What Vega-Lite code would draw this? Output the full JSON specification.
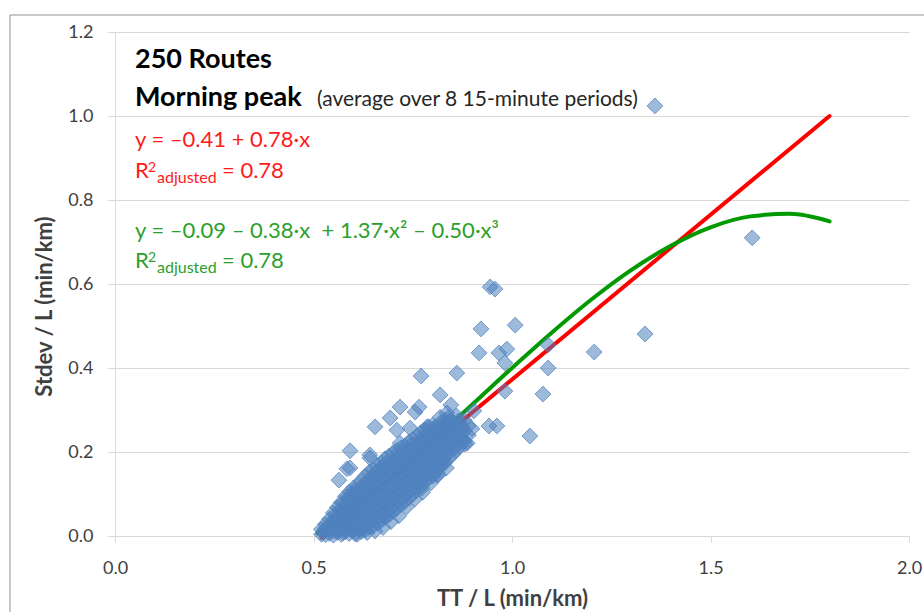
{
  "$schema": "https://vega.github.io/schema/vega-lite/v6.json",
  "width": 794,
  "height": 504,
  "autosize": "none",
  "padding": {"left": 115, "top": 32, "right": 15, "bottom": 76},
  "background": "white",
  "config": {
    "font": "Lato",
    "view": {"stroke": null},
    "axis": {"labelFont": "Lato", "titleFont": "Lato"}
  },
  "datasets": {
    "points": [
      {"tt":0.52,"sd":0.004},{"tt":0.52,"sd":0.016},{"tt":0.525,"sd":0.01},
      {"tt":0.53,"sd":0.003},{"tt":0.53,"sd":0.018},{"tt":0.53,"sd":0.028},
      {"tt":0.54,"sd":0.006},{"tt":0.54,"sd":0.022},{"tt":0.54,"sd":0.04},
      {"tt":0.545,"sd":0.012},{"tt":0.545,"sd":0.03},
      {"tt":0.55,"sd":0.002},{"tt":0.55,"sd":0.02},{"tt":0.55,"sd":0.038},{"tt":0.55,"sd":0.055},
      {"tt":0.56,"sd":0.008},{"tt":0.56,"sd":0.026},{"tt":0.56,"sd":0.046},{"tt":0.56,"sd":0.068},
      {"tt":0.57,"sd":0.004},{"tt":0.57,"sd":0.018},{"tt":0.57,"sd":0.036},{"tt":0.57,"sd":0.058},{"tt":0.57,"sd":0.08},
      {"tt":0.58,"sd":0.01},{"tt":0.58,"sd":0.03},{"tt":0.58,"sd":0.05},{"tt":0.58,"sd":0.072},{"tt":0.58,"sd":0.094},
      {"tt":0.59,"sd":0.006},{"tt":0.59,"sd":0.022},{"tt":0.59,"sd":0.044},{"tt":0.59,"sd":0.064},{"tt":0.59,"sd":0.086},{"tt":0.59,"sd":0.104},
      {"tt":0.6,"sd":0.012},{"tt":0.6,"sd":0.034},{"tt":0.6,"sd":0.056},{"tt":0.6,"sd":0.078},{"tt":0.6,"sd":0.098},{"tt":0.6,"sd":0.114},
      {"tt":0.61,"sd":0.004},{"tt":0.61,"sd":0.026},{"tt":0.61,"sd":0.048},{"tt":0.61,"sd":0.07},{"tt":0.61,"sd":0.092},{"tt":0.61,"sd":0.12},
      {"tt":0.62,"sd":0.01},{"tt":0.62,"sd":0.036},{"tt":0.62,"sd":0.058},{"tt":0.62,"sd":0.082},{"tt":0.62,"sd":0.106},{"tt":0.62,"sd":0.132},
      {"tt":0.63,"sd":0.014},{"tt":0.63,"sd":0.04},{"tt":0.63,"sd":0.066},{"tt":0.63,"sd":0.09},{"tt":0.63,"sd":0.114},{"tt":0.63,"sd":0.142},
      {"tt":0.64,"sd":0.02},{"tt":0.64,"sd":0.046},{"tt":0.64,"sd":0.072},{"tt":0.64,"sd":0.1},{"tt":0.64,"sd":0.126},{"tt":0.64,"sd":0.152},
      {"tt":0.65,"sd":0.024},{"tt":0.65,"sd":0.052},{"tt":0.65,"sd":0.08},{"tt":0.65,"sd":0.108},{"tt":0.65,"sd":0.134},{"tt":0.65,"sd":0.158},
      {"tt":0.66,"sd":0.03},{"tt":0.66,"sd":0.06},{"tt":0.66,"sd":0.088},{"tt":0.66,"sd":0.116},{"tt":0.66,"sd":0.144},{"tt":0.66,"sd":0.168},
      {"tt":0.67,"sd":0.036},{"tt":0.67,"sd":0.066},{"tt":0.67,"sd":0.096},{"tt":0.67,"sd":0.124},{"tt":0.67,"sd":0.152},{"tt":0.67,"sd":0.174},
      {"tt":0.68,"sd":0.044},{"tt":0.68,"sd":0.074},{"tt":0.68,"sd":0.104},{"tt":0.68,"sd":0.132},{"tt":0.68,"sd":0.16},{"tt":0.68,"sd":0.184},
      {"tt":0.69,"sd":0.05},{"tt":0.69,"sd":0.082},{"tt":0.69,"sd":0.11},{"tt":0.69,"sd":0.14},{"tt":0.69,"sd":0.168},{"tt":0.69,"sd":0.19},
      {"tt":0.7,"sd":0.058},{"tt":0.7,"sd":0.088},{"tt":0.7,"sd":0.118},{"tt":0.7,"sd":0.148},{"tt":0.7,"sd":0.176},{"tt":0.7,"sd":0.198},
      {"tt":0.71,"sd":0.066},{"tt":0.71,"sd":0.096},{"tt":0.71,"sd":0.126},{"tt":0.71,"sd":0.156},{"tt":0.71,"sd":0.184},{"tt":0.71,"sd":0.204},
      {"tt":0.72,"sd":0.074},{"tt":0.72,"sd":0.104},{"tt":0.72,"sd":0.134},{"tt":0.72,"sd":0.164},{"tt":0.72,"sd":0.19},{"tt":0.72,"sd":0.21},
      {"tt":0.73,"sd":0.082},{"tt":0.73,"sd":0.112},{"tt":0.73,"sd":0.142},{"tt":0.73,"sd":0.17},{"tt":0.73,"sd":0.196},{"tt":0.73,"sd":0.214},
      {"tt":0.74,"sd":0.09},{"tt":0.74,"sd":0.12},{"tt":0.74,"sd":0.15},{"tt":0.74,"sd":0.178},{"tt":0.74,"sd":0.204},{"tt":0.74,"sd":0.224},
      {"tt":0.75,"sd":0.1},{"tt":0.75,"sd":0.13},{"tt":0.75,"sd":0.158},{"tt":0.75,"sd":0.186},{"tt":0.75,"sd":0.21},{"tt":0.75,"sd":0.23},
      {"tt":0.76,"sd":0.108},{"tt":0.76,"sd":0.138},{"tt":0.76,"sd":0.166},{"tt":0.76,"sd":0.194},{"tt":0.76,"sd":0.218},{"tt":0.76,"sd":0.238},
      {"tt":0.77,"sd":0.118},{"tt":0.77,"sd":0.148},{"tt":0.77,"sd":0.176},{"tt":0.77,"sd":0.202},{"tt":0.77,"sd":0.226},{"tt":0.77,"sd":0.246},
      {"tt":0.78,"sd":0.128},{"tt":0.78,"sd":0.158},{"tt":0.78,"sd":0.186},{"tt":0.78,"sd":0.21},{"tt":0.78,"sd":0.234},{"tt":0.78,"sd":0.252},
      {"tt":0.79,"sd":0.138},{"tt":0.79,"sd":0.168},{"tt":0.79,"sd":0.194},{"tt":0.79,"sd":0.218},{"tt":0.79,"sd":0.24},{"tt":0.79,"sd":0.26},
      {"tt":0.8,"sd":0.148},{"tt":0.8,"sd":0.176},{"tt":0.8,"sd":0.202},{"tt":0.8,"sd":0.226},{"tt":0.8,"sd":0.248},{"tt":0.8,"sd":0.264},
      {"tt":0.81,"sd":0.156},{"tt":0.81,"sd":0.184},{"tt":0.81,"sd":0.21},{"tt":0.81,"sd":0.234},{"tt":0.81,"sd":0.256},
      {"tt":0.82,"sd":0.164},{"tt":0.82,"sd":0.192},{"tt":0.82,"sd":0.218},{"tt":0.82,"sd":0.242},{"tt":0.82,"sd":0.27},
      {"tt":0.83,"sd":0.174},{"tt":0.83,"sd":0.2},{"tt":0.83,"sd":0.226},{"tt":0.83,"sd":0.25},{"tt":0.83,"sd":0.276},
      {"tt":0.84,"sd":0.184},{"tt":0.84,"sd":0.21},{"tt":0.84,"sd":0.236},{"tt":0.84,"sd":0.26},{"tt":0.84,"sd":0.282},
      {"tt":0.85,"sd":0.194},{"tt":0.85,"sd":0.22},{"tt":0.85,"sd":0.246},{"tt":0.85,"sd":0.27},
      {"tt":0.86,"sd":0.204},{"tt":0.86,"sd":0.232},{"tt":0.86,"sd":0.258},{"tt":0.86,"sd":0.286},
      {"tt":0.87,"sd":0.214},{"tt":0.87,"sd":0.242},{"tt":0.87,"sd":0.268},
      {"tt":0.88,"sd":0.226},{"tt":0.88,"sd":0.25},{"tt":0.88,"sd":0.276},
      {"tt":0.89,"sd":0.24},{"tt":0.89,"sd":0.262},
      {"tt":0.555,"sd":0.012},{"tt":0.555,"sd":0.032},{"tt":0.555,"sd":0.05},
      {"tt":0.565,"sd":0.015},{"tt":0.565,"sd":0.04},{"tt":0.565,"sd":0.062},
      {"tt":0.575,"sd":0.008},{"tt":0.575,"sd":0.03},{"tt":0.575,"sd":0.055},{"tt":0.575,"sd":0.078},
      {"tt":0.585,"sd":0.02},{"tt":0.585,"sd":0.042},{"tt":0.585,"sd":0.066},{"tt":0.585,"sd":0.088},
      {"tt":0.595,"sd":0.016},{"tt":0.595,"sd":0.038},{"tt":0.595,"sd":0.06},{"tt":0.595,"sd":0.082},{"tt":0.595,"sd":0.1},
      {"tt":0.605,"sd":0.005},{"tt":0.605,"sd":0.024},{"tt":0.605,"sd":0.046},{"tt":0.605,"sd":0.068},{"tt":0.605,"sd":0.09},{"tt":0.605,"sd":0.108},
      {"tt":0.615,"sd":0.016},{"tt":0.615,"sd":0.04},{"tt":0.615,"sd":0.062},{"tt":0.615,"sd":0.086},{"tt":0.615,"sd":0.11},
      {"tt":0.625,"sd":0.022},{"tt":0.625,"sd":0.048},{"tt":0.625,"sd":0.072},{"tt":0.625,"sd":0.096},{"tt":0.625,"sd":0.12},
      {"tt":0.635,"sd":0.008},{"tt":0.635,"sd":0.03},{"tt":0.635,"sd":0.056},{"tt":0.635,"sd":0.08},{"tt":0.635,"sd":0.106},{"tt":0.635,"sd":0.13},
      {"tt":0.645,"sd":0.036},{"tt":0.645,"sd":0.062},{"tt":0.645,"sd":0.09},{"tt":0.645,"sd":0.116},{"tt":0.645,"sd":0.14},
      {"tt":0.655,"sd":0.012},{"tt":0.655,"sd":0.042},{"tt":0.655,"sd":0.07},{"tt":0.655,"sd":0.096},{"tt":0.655,"sd":0.122},{"tt":0.655,"sd":0.15},
      {"tt":0.665,"sd":0.046},{"tt":0.665,"sd":0.076},{"tt":0.665,"sd":0.104},{"tt":0.665,"sd":0.13},{"tt":0.665,"sd":0.158},
      {"tt":0.675,"sd":0.02},{"tt":0.675,"sd":0.054},{"tt":0.675,"sd":0.084},{"tt":0.675,"sd":0.112},{"tt":0.675,"sd":0.14},{"tt":0.675,"sd":0.166},
      {"tt":0.685,"sd":0.06},{"tt":0.685,"sd":0.092},{"tt":0.685,"sd":0.12},{"tt":0.685,"sd":0.15},{"tt":0.685,"sd":0.176},
      {"tt":0.695,"sd":0.034},{"tt":0.695,"sd":0.068},{"tt":0.695,"sd":0.1},{"tt":0.695,"sd":0.13},{"tt":0.695,"sd":0.158},
      {"tt":0.705,"sd":0.076},{"tt":0.705,"sd":0.106},{"tt":0.705,"sd":0.136},{"tt":0.705,"sd":0.166},{"tt":0.705,"sd":0.19},
      {"tt":0.715,"sd":0.048},{"tt":0.715,"sd":0.084},{"tt":0.715,"sd":0.114},{"tt":0.715,"sd":0.144},{"tt":0.715,"sd":0.172},
      {"tt":0.725,"sd":0.092},{"tt":0.725,"sd":0.122},{"tt":0.725,"sd":0.152},{"tt":0.725,"sd":0.18},{"tt":0.725,"sd":0.2},
      {"tt":0.735,"sd":0.07},{"tt":0.735,"sd":0.1},{"tt":0.735,"sd":0.13},{"tt":0.735,"sd":0.16},{"tt":0.735,"sd":0.188},
      {"tt":0.745,"sd":0.108},{"tt":0.745,"sd":0.138},{"tt":0.745,"sd":0.166},{"tt":0.745,"sd":0.194},{"tt":0.745,"sd":0.216},
      {"tt":0.755,"sd":0.088},{"tt":0.755,"sd":0.118},{"tt":0.755,"sd":0.146},{"tt":0.755,"sd":0.174},{"tt":0.755,"sd":0.2},
      {"tt":0.765,"sd":0.126},{"tt":0.765,"sd":0.154},{"tt":0.765,"sd":0.182},{"tt":0.765,"sd":0.208},{"tt":0.765,"sd":0.23},
      {"tt":0.775,"sd":0.104},{"tt":0.775,"sd":0.136},{"tt":0.775,"sd":0.164},{"tt":0.775,"sd":0.192},{"tt":0.775,"sd":0.216},
      {"tt":0.785,"sd":0.146},{"tt":0.785,"sd":0.174},{"tt":0.785,"sd":0.2},{"tt":0.785,"sd":0.224},{"tt":0.785,"sd":0.248},
      {"tt":0.795,"sd":0.126},{"tt":0.795,"sd":0.156},{"tt":0.795,"sd":0.184},{"tt":0.795,"sd":0.208},{"tt":0.795,"sd":0.232},
      {"tt":0.805,"sd":0.166},{"tt":0.805,"sd":0.192},{"tt":0.805,"sd":0.216},{"tt":0.805,"sd":0.24},{"tt":0.805,"sd":0.258},
      {"tt":0.815,"sd":0.146},{"tt":0.815,"sd":0.174},{"tt":0.815,"sd":0.2},{"tt":0.815,"sd":0.224},{"tt":0.815,"sd":0.248},
      {"tt":0.825,"sd":0.182},{"tt":0.825,"sd":0.206},{"tt":0.825,"sd":0.232},{"tt":0.825,"sd":0.256},
      {"tt":0.835,"sd":0.162},{"tt":0.835,"sd":0.194},{"tt":0.835,"sd":0.22},{"tt":0.835,"sd":0.246},{"tt":0.835,"sd":0.27},
      {"tt":0.845,"sd":0.202},{"tt":0.845,"sd":0.228},{"tt":0.845,"sd":0.254},{"tt":0.845,"sd":0.276},
      {"tt":0.855,"sd":0.21},{"tt":0.855,"sd":0.236},{"tt":0.855,"sd":0.262},
      {"tt":0.865,"sd":0.22},{"tt":0.865,"sd":0.25},{"tt":0.865,"sd":0.274},
      {"tt":0.875,"sd":0.232},{"tt":0.875,"sd":0.258},
      {"tt":1.36,"sd":1.024},{"tt":1.605,"sd":0.71},{"tt":1.335,"sd":0.481},{"tt":1.207,"sd":0.438},
      {"tt":1.091,"sd":0.4},{"tt":1.091,"sd":0.455},{"tt":1.008,"sd":0.502},{"tt":0.922,"sd":0.493},
      {"tt":0.917,"sd":0.436},{"tt":0.967,"sd":0.436},{"tt":0.987,"sd":0.445},{"tt":0.982,"sd":0.412},
      {"tt":0.982,"sd":0.345},{"tt":1.078,"sd":0.338},{"tt":1.045,"sd":0.238},{"tt":0.904,"sd":0.298},
      {"tt":0.899,"sd":0.255},{"tt":0.942,"sd":0.262},{"tt":0.962,"sd":0.262},{"tt":0.882,"sd":0.219},
      {"tt":0.945,"sd":0.593},{"tt":0.957,"sd":0.588},{"tt":0.771,"sd":0.381},{"tt":0.861,"sd":0.388},
      {"tt":0.819,"sd":0.336},{"tt":0.766,"sd":0.307},{"tt":0.718,"sd":0.307},{"tt":0.693,"sd":0.281},
      {"tt":0.756,"sd":0.295},{"tt":0.846,"sd":0.312},{"tt":0.819,"sd":0.283},{"tt":0.592,"sd":0.203},
      {"tt":0.655,"sd":0.26},{"tt":0.564,"sd":0.133},{"tt":0.592,"sd":0.162},{"tt":0.68,"sd":0.055},
      {"tt":0.773,"sd":0.114},{"tt":0.811,"sd":0.145},{"tt":0.642,"sd":0.193},{"tt":0.718,"sd":0.221},
      {"tt":0.836,"sd":0.293},{"tt":0.869,"sd":0.236},{"tt":0.887,"sd":0.221},{"tt":0.743,"sd":0.257},
      {"tt":0.71,"sd":0.252},{"tt":0.786,"sd":0.26},{"tt":0.836,"sd":0.27},{"tt":0.826,"sd":0.174},
      {"tt":0.675,"sd":0.048},{"tt":0.801,"sd":0.143},{"tt":0.584,"sd":0.16},{"tt":0.642,"sd":0.186}
    ],
    "linear": [
      {"tt":0.52,"sd":-0.004},{"tt":1.8,"sd":1.0}
    ],
    "cubic": [
      {"tt":0.51,"sd":0.006},{"tt":0.6,"sd":0.067},{"tt":0.7,"sd":0.144},{"tt":0.8,"sd":0.227},
      {"tt":0.9,"sd":0.313},{"tt":1.0,"sd":0.4},{"tt":1.1,"sd":0.484},{"tt":1.2,"sd":0.563},
      {"tt":1.3,"sd":0.633},{"tt":1.4,"sd":0.691},{"tt":1.5,"sd":0.735},{"tt":1.6,"sd":0.761},
      {"tt":1.7,"sd":0.767},{"tt":1.8,"sd":0.749}
    ]
  },
  "layer": [
    {
      "data": {"name": "linear"},
      "mark": {"type": "line", "color": "#ff0000", "strokeWidth": 4, "strokeCap": "round"},
      "encoding": {
        "x": {
          "field": "tt", "type": "quantitative",
          "scale": {"domain": [0, 2], "nice": false, "zero": false},
          "axis": {
            "title": "TT / L (min/km)",
            "values": [0, 0.5, 1, 1.5, 2],
            "format": ".1f",
            "grid": false,
            "domainColor": "#d9d9d9",
            "tickColor": "#d9d9d9",
            "tickSize": 6,
            "labelFontSize": 18,
            "labelColor": "#404040",
            "labelPadding": 17,
            "labelFlush": false,
            "labelOverlap": false,
            "titleFontSize": 22,
            "titleFontWeight": "bold",
            "titleColor": "#404040",
            "titleY": 69,
            "titleBaseline": "alphabetic"
          }
        },
        "y": {
          "field": "sd", "type": "quantitative",
          "scale": {"domain": [0, 1.2], "nice": false, "zero": false},
          "axis": {
            "title": "Stdev / L (min/km)",
            "values": [0, 0.2, 0.4, 0.6, 0.8, 1.0, 1.2],
            "format": ".1f",
            "grid": true,
            "gridColor": "#d9d9d9",
            "domainColor": "#d9d9d9",
            "tickColor": "#d9d9d9",
            "tickSize": 8,
            "labelFontSize": 18,
            "labelColor": "#404040",
            "labelPadding": 14,
            "labelOverlap": false,
            "titleFontSize": 22,
            "titleFontWeight": "bold",
            "titleColor": "#404040",
            "titleAngle": 270,
            "titleX": -64,
            "titleY": 274,
            "titleAlign": "center",
            "titleBaseline": "alphabetic"
          }
        }
      }
    },
    {
      "data": {"name": "cubic"},
      "mark": {"type": "line", "color": "#009a00", "strokeWidth": 4, "strokeCap": "round", "interpolate": "monotone"},
      "encoding": {"x": {"field": "tt", "type": "quantitative"}, "y": {"field": "sd", "type": "quantitative"}}
    },
    {
      "data": {"name": "points"},
      "mark": {"type": "point", "shape": "diamond", "size": 250, "filled": true, "fill": "#4f81bd", "fillOpacity": 0.55, "stroke": "#4f81bd", "strokeOpacity": 0.75, "strokeWidth": 1},
      "encoding": {"x": {"field": "tt", "type": "quantitative"}, "y": {"field": "sd", "type": "quantitative"}}
    },
    {
      "data": {"values": [{"frame": "top"}]},
      "mark": {"type": "rule", "color": "#909090", "strokeWidth": 1},
      "encoding": {
        "x": {"datum": -0.2645},
        "x2": {"datum": 2.2},
        "y": {"datum": 1.2405}
      }
    },
    {
      "data": {"values": [{"frame": "left"}]},
      "mark": {"type": "rule", "color": "#909090", "strokeWidth": 1},
      "encoding": {
        "x": {"datum": -0.2645},
        "y": {"datum": 1.2405},
        "y2": {"datum": -0.3}
      }
    },
    {
      "data": {"values": [{"label": "250 Routes"}]},
      "mark": {"type": "text", "align": "left", "baseline": "alphabetic", "fontSize": 27, "fontWeight": "bold", "color": "#000000"},
      "encoding": {"x": {"datum": 0.0504}, "y": {"datum": 1.1143}, "text": {"field": "label"}}
    },
    {
      "data": {"values": [{"label": "Morning peak"}]},
      "mark": {"type": "text", "align": "left", "baseline": "alphabetic", "fontSize": 27, "fontWeight": "bold", "color": "#000000"},
      "encoding": {"x": {"datum": 0.0504}, "y": {"datum": 1.0238}, "text": {"field": "label"}}
    },
    {
      "data": {"values": [{"label": "(average over 8 15-minute periods)"}]},
      "mark": {"type": "text", "align": "left", "baseline": "alphabetic", "fontSize": 21, "color": "#262626"},
      "encoding": {"x": {"datum": 0.5088}, "y": {"datum": 1.0238}, "text": {"field": "label"}}
    },
    {
      "data": {"values": [{"label": "y = –0.41 + 0.78·x"}]},
      "mark": {"type": "text", "align": "left", "baseline": "alphabetic", "fontSize": 22, "color": "#ff1a1a"},
      "encoding": {"x": {"datum": 0.0504}, "y": {"datum": 0.9262}, "text": {"field": "label"}}
    },
    {
      "data": {"values": [{"label": "R"}]},
      "mark": {"type": "text", "align": "left", "baseline": "alphabetic", "fontSize": 22, "color": "#ff1a1a"},
      "encoding": {"x": {"datum": 0.0504}, "y": {"datum": 0.8524}, "text": {"field": "label"}}
    },
    {
      "data": {"values": [{"label": "2"}]},
      "mark": {"type": "text", "align": "left", "baseline": "alphabetic", "fontSize": 14, "color": "#ff1a1a"},
      "encoding": {"x": {"datum": 0.0831}, "y": {"datum": 0.8667}, "text": {"field": "label"}}
    },
    {
      "data": {"values": [{"label": "adjusted"}]},
      "mark": {"type": "text", "align": "left", "baseline": "alphabetic", "fontSize": 16, "color": "#ff1a1a"},
      "encoding": {"x": {"datum": 0.1058}, "y": {"datum": 0.8405}, "text": {"field": "label"}}
    },
    {
      "data": {"values": [{"label": "= 0.78"}]},
      "mark": {"type": "text", "align": "left", "baseline": "alphabetic", "fontSize": 22, "color": "#ff1a1a"},
      "encoding": {"x": {"datum": 0.2695}, "y": {"datum": 0.8524}, "text": {"field": "label"}}
    },
    {
      "data": {"values": [{"label": "y = –0.09 – 0.38·x \u00a0+ 1.37·x² – 0.50·x³"}]},
      "mark": {"type": "text", "align": "left", "baseline": "alphabetic", "fontSize": 22, "color": "#2ca02c"},
      "encoding": {"x": {"datum": 0.0504}, "y": {"datum": 0.7095}, "text": {"field": "label"}}
    },
    {
      "data": {"values": [{"label": "R"}]},
      "mark": {"type": "text", "align": "left", "baseline": "alphabetic", "fontSize": 22, "color": "#2ca02c"},
      "encoding": {"x": {"datum": 0.0504}, "y": {"datum": 0.638}, "text": {"field": "label"}}
    },
    {
      "data": {"values": [{"label": "2"}]},
      "mark": {"type": "text", "align": "left", "baseline": "alphabetic", "fontSize": 14, "color": "#2ca02c"},
      "encoding": {"x": {"datum": 0.0831}, "y": {"datum": 0.6524}, "text": {"field": "label"}}
    },
    {
      "data": {"values": [{"label": "adjusted"}]},
      "mark": {"type": "text", "align": "left", "baseline": "alphabetic", "fontSize": 16, "color": "#2ca02c"},
      "encoding": {"x": {"datum": 0.1058}, "y": {"datum": 0.6262}, "text": {"field": "label"}}
    },
    {
      "data": {"values": [{"label": "= 0.78"}]},
      "mark": {"type": "text", "align": "left", "baseline": "alphabetic", "fontSize": 22, "color": "#2ca02c"},
      "encoding": {"x": {"datum": 0.2695}, "y": {"datum": 0.638}, "text": {"field": "label"}}
    }
  ]
}
